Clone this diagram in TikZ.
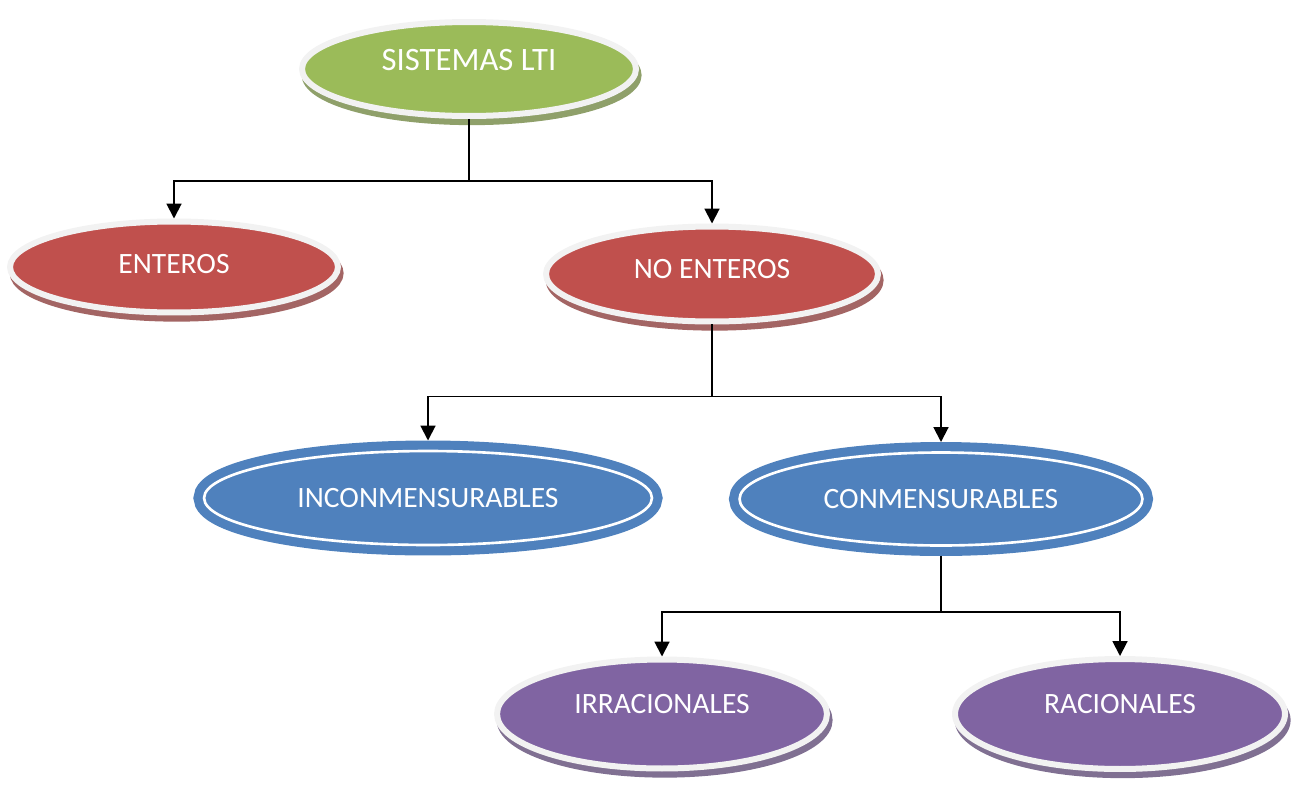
\documentclass[tikz,border=0pt]{standalone}
\usepackage{fontspec}
\setmainfont{Carlito}
\usetikzlibrary{arrows.meta, shapes.geometric}

\definecolor{greenC}{HTML}{9BBB59}
\definecolor{redC}{HTML}{C0504D}
\definecolor{blueC}{HTML}{4F81BD}
\definecolor{purpleC}{HTML}{8064A2}
\definecolor{ringC}{HTML}{F2F2F2}

\begin{document}
\begin{tikzpicture}[
  x=0.02cm, y=-0.02cm,
  every node/.style={font=\fontsize{16.8}{20}\selectfont, text=white, inner sep=0pt},
  bubble/.style={ellipse, draw=ringC, line width=0.12cm, fill=#1,
    preaction={fill=#1!55!gray, draw=#1!55!gray, transform canvas={shift={(1.5pt,-3.5pt)}}}},
  ring/.style={ellipse, fill=blueC, draw=white, line width=1.5pt, outer sep=0.21cm,
    preaction={draw=blueC, line width=0.42cm}},
  lift/.style={text depth=#1},
  arrow/.style={-{Triangle[width=8.5pt,length=8.5pt]}, line width=1.1pt}
]
\useasboundingbox (0,0) rectangle (1298,788);

% ------------------------------------------------------------
% Root
% ------------------------------------------------------------

\node[bubble=greenC, lift=10pt, font=\fontsize{18.6}{22}\selectfont,
  minimum width=6.68cm, minimum height=1.88cm] (lti) at (469,69) {SISTEMAS LTI};

% ------------------------------------------------------------
% Integer / non-integer order
% ------------------------------------------------------------

\node[bubble=redC, lift=4pt, minimum width=6.56cm, minimum height=1.82cm] (ent) at (174,267) {ENTEROS};
\node[bubble=redC, lift=6pt, minimum width=6.64cm, minimum height=1.9cm] (noent) at (712,274) {NO ENTEROS};

\draw[arrow] (lti.south) -- ++(0,62) coordinate (j1) -| (ent.north);
\draw[arrow] (j1) -| (noent.north);

% ------------------------------------------------------------
% Commensurate or not
% ------------------------------------------------------------

\node[ring, minimum width=8.96cm, minimum height=1.88cm] (inc) at (428,498) {INCONMENSURABLES};
\node[ring, minimum width=8.06cm, minimum height=1.86cm] (con) at (941,499) {CONMENSURABLES};

\draw[arrow] (noent.south) -- ++(0,72) coordinate (j2) -| (inc.north);
\draw[arrow] (j2) -| (con.north);

% ------------------------------------------------------------
% Rational / irrational
% ------------------------------------------------------------

\node[bubble=purpleC, lift=11pt, minimum width=6.6cm, minimum height=2.18cm] (irr) at (662,714) {IRRACIONALES};
\node[bubble=purpleC, lift=11pt, minimum width=6.6cm, minimum height=2.2cm] (rac) at (1120,714) {RACIONALES};

\draw[arrow] (con.south) -- ++(0,56) coordinate (j3) -| (irr.north);
\draw[arrow] (j3) -| (rac.north);

\end{tikzpicture}
\end{document}
